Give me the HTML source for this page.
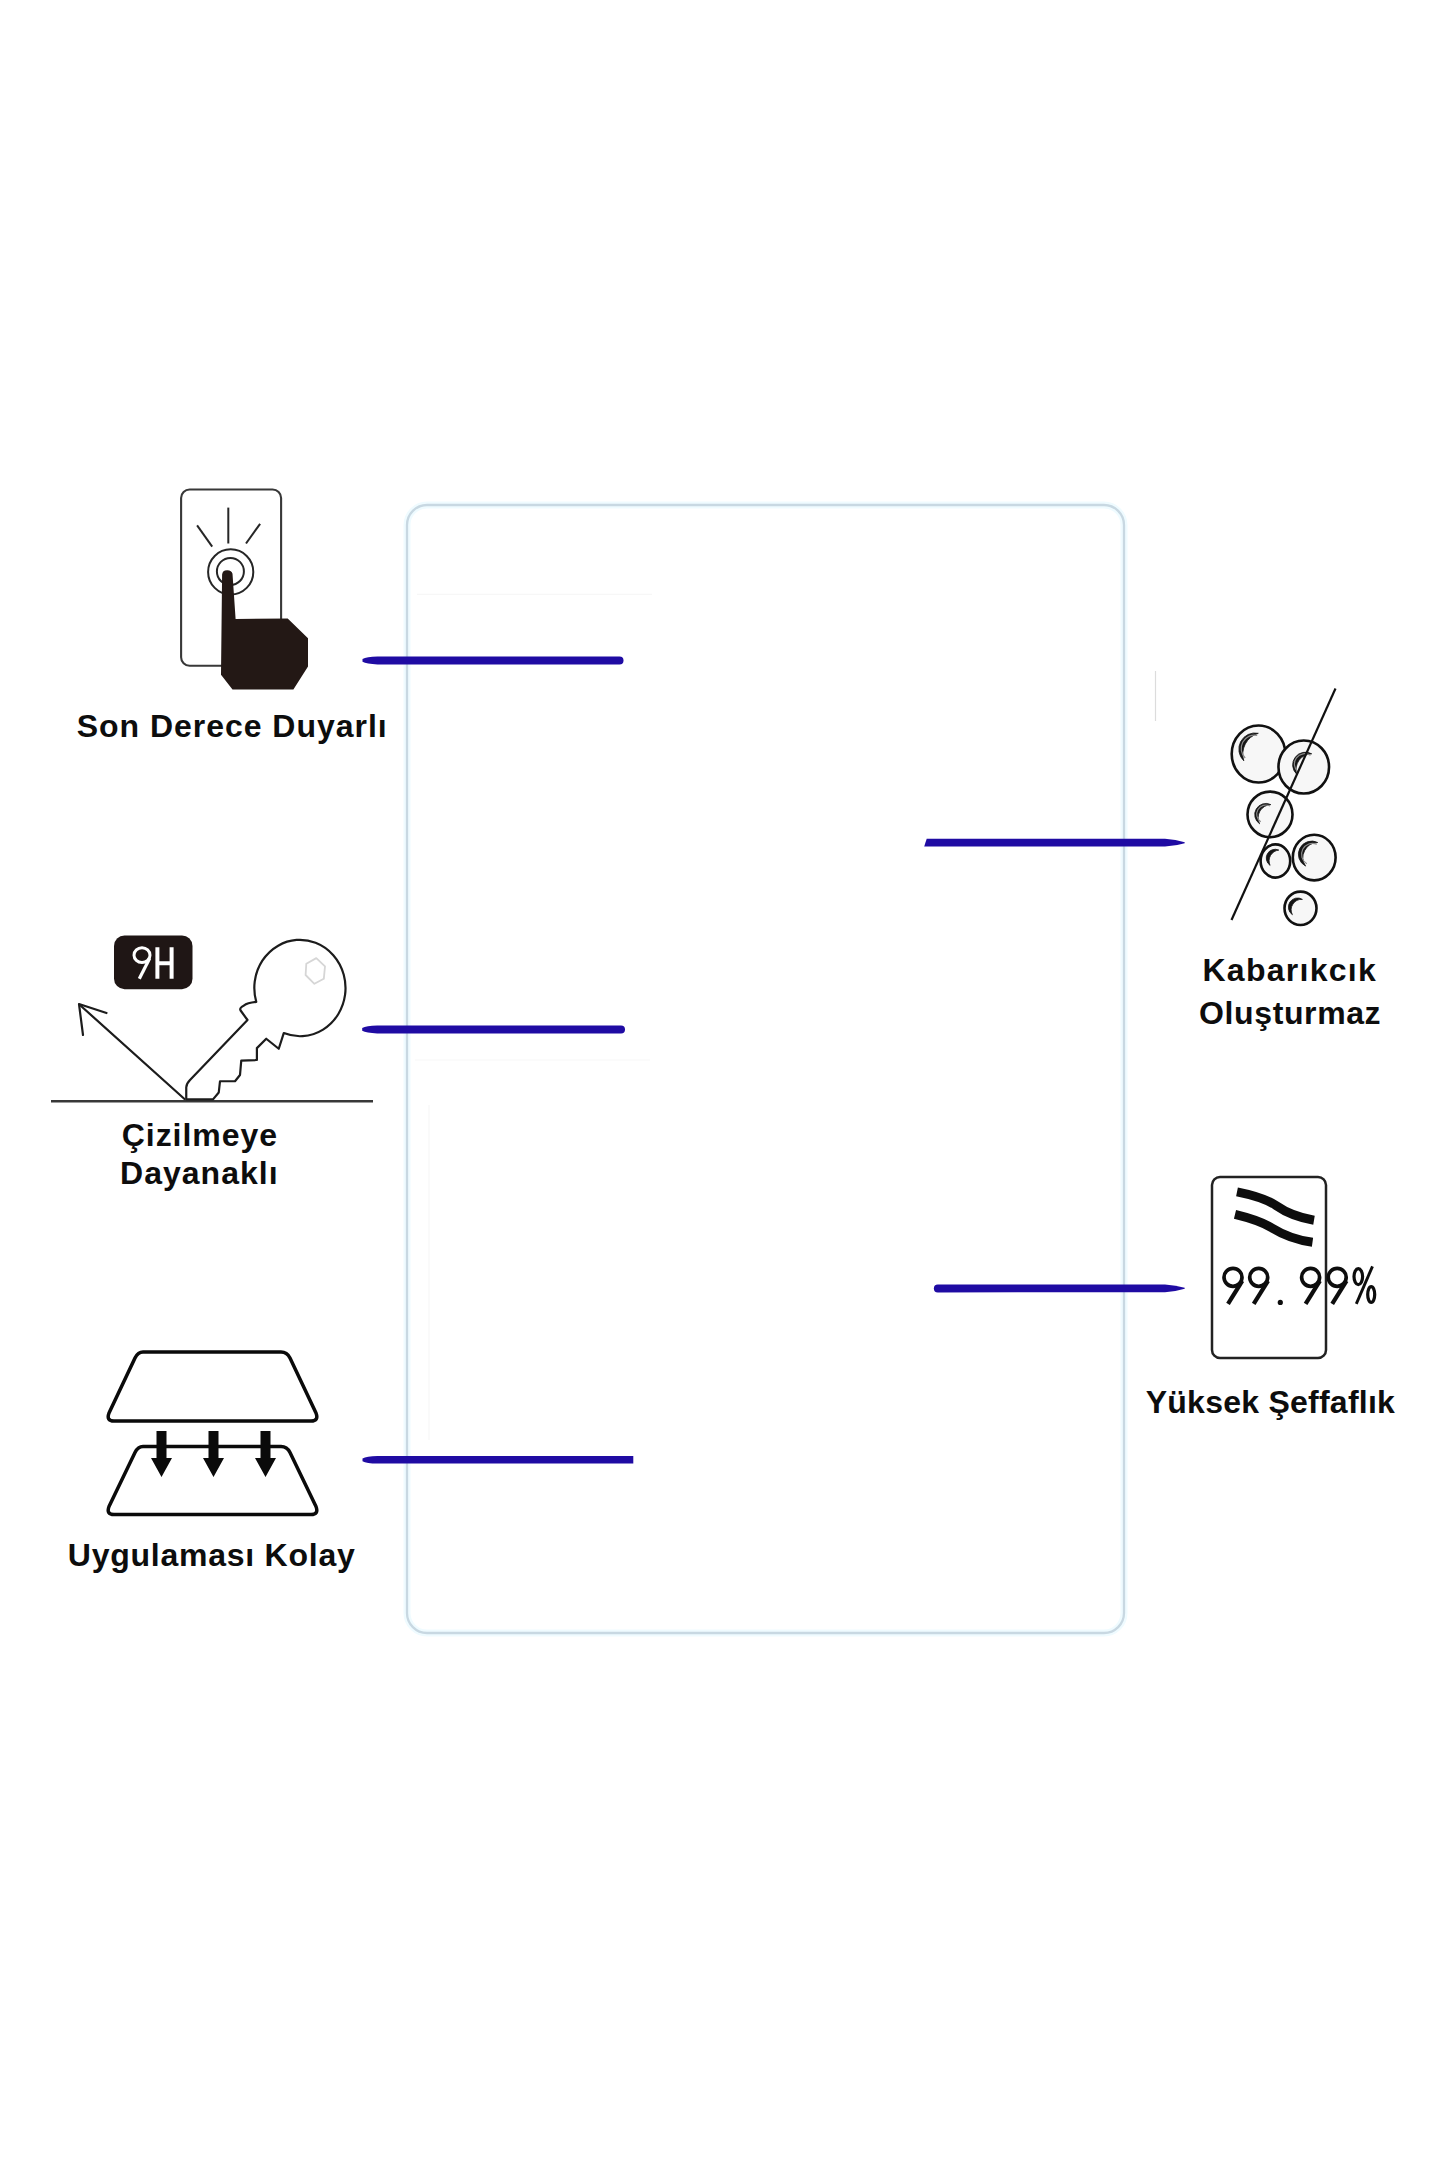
<!DOCTYPE html>
<html>
<head>
<meta charset="utf-8">
<style>
html,body{margin:0;padding:0;background:#fff;}
body{width:1440px;height:2160px;overflow:hidden;position:relative;font-family:"Liberation Sans",sans-serif;}
svg{position:absolute;left:0;top:0;}
.lbl{font-family:"Liberation Sans",sans-serif;font-weight:bold;fill:#0d0d0d;}
</style>
</head>
<body>
<svg width="1440" height="2160" viewBox="0 0 1440 2160">
<!-- central screen outline -->
<rect x="407" y="505" width="717" height="1128" rx="20" ry="20" fill="none" stroke="#effbff" stroke-width="7"/>
<rect x="407" y="505" width="717" height="1128" rx="20" ry="20" fill="none" stroke="#c8d8e2" stroke-width="2.3"/>

<g stroke="#f7f7f7" stroke-width="1.2">
<line x1="417" y1="594.4" x2="652" y2="594.4"/>
<line x1="415" y1="1060" x2="650" y2="1060"/>
<line x1="429" y1="1105" x2="429" y2="1440"/>
</g>
<!-- blue lines -->
<g fill="#1f0ba3">
<path d="M362.5 659.0 Q366.5 656.6 377.5 656.4 L619.5 656.4 A4.0 4.0 0 0 1 619.5 664.4 L377.5 664.4 Q366.5 664.2 362.5 661.8 Z"/>
<path d="M362.2 1028.0 Q366.2 1025.6 377.2 1025.4 L621.0 1025.4 A4.0 4.0 0 0 1 621.0 1033.4 L377.2 1033.4 Q366.2 1033.2 362.2 1030.8 Z"/>
<path d="M362.5 1458.4 Q366.5 1456.2 377.5 1456.0 L633.3 1456.0 L633.3 1463.6 L377.5 1463.6 Q366.5 1463.4 362.5 1461.2 Z"/>
<path d="M926.7 838.8 L1165 838.8 Q1176 839.5 1184.7 842.2 L1184.7 843.2 Q1176 845.9 1165 846.6 L924.2 846.6 Z"/>
<path d="M937.8 1284.5 L1165 1284.6 Q1176 1285.3 1184.7 1287.8 L1184.7 1288.8 Q1176 1291.5 1165 1292.3 L937.8 1292.4 A3.95 3.95 0 0 1 937.8 1284.5 Z"/>
</g>

<!-- ICON 1: touch -->
<rect x="181.1" y="489.5" width="100" height="176.3" rx="8.5" fill="none" stroke="#383838" stroke-width="2.1"/>
<g stroke="#262626" stroke-width="2.0" fill="none">
<line x1="228.3" y1="507.6" x2="228.3" y2="543.5"/>
<line x1="197.1" y1="525.3" x2="212.2" y2="546.7"/>
<line x1="260.1" y1="523.8" x2="246" y2="543.5"/>
<circle cx="230.7" cy="571.9" r="22.6"/>
<circle cx="230.4" cy="571.4" r="13.5"/>
</g>
<path fill="#231815" d="M222.1 574.5 Q222.5 570.4 227 570.3 Q231.5 570.1 232.5 573.8 L235.6 619 L287.7 618.6 L308 638.3 L308 666.5 L293.4 689.4 L232.5 689.4 L221 674.8 Z"/>
<text class="lbl" x="76.78" y="736.60" font-size="32.0" textLength="309.87" lengthAdjust="spacing">Son Derece Duyarlı</text>

<!-- ICON 2: scratch -->
<rect x="114" y="935.5" width="78.5" height="53.7" rx="10.5" fill="#1f1615"/>
<g stroke="#fff" fill="none">
<ellipse cx="142" cy="955.2" rx="8" ry="7.4" stroke-width="3"/>
<path d="M149.6 958.5 L139.3 978.8" stroke-width="3.2"/>
<path d="M157.4 947.2 V978.8 M171.6 947.2 V978.8 M157.4 963.3 H171.6" stroke-width="4"/>
</g>
<line x1="51" y1="1101.2" x2="373" y2="1101.2" stroke="#383838" stroke-width="2.4"/>
<g stroke="#1c1c1c" stroke-width="2.2" fill="none" stroke-linecap="round" stroke-linejoin="round">
<line x1="184.5" y1="1099" x2="81" y2="1006"/>
<polyline points="83,1035 79,1004 106.5,1013"/>
<path d="M256.25 1001.9 Q247 1003 244 1005.5 Q239 1008 240.6 1010.5 L247.5 1020 L190 1080 Q186 1084 186.25 1088 L186.25 1099.4 L213 1099.4 L218.75 1092.5 L220 1081.25 L235 1081.25 L240 1075 L241.25 1060.6 L256.9 1060 L256.9 1048.1 L266.25 1038.75 L278.75 1048.75 L283.75 1033.1 A45.6 48.2 0 1 0 256.25 1001.9 Z"/>
</g>
<polygon points="306.3,963.8 316.3,958.1 325,966.3 323.8,978.8 314.4,983.8 305.6,975" fill="none" stroke="#d6d6d6" stroke-width="1.8" stroke-linejoin="round"/>
<text class="lbl" x="121.79" y="1145.50" font-size="32.0" textLength="155.14" lengthAdjust="spacing">Çizilmeye</text>
<text class="lbl" x="120.06" y="1184.40" font-size="32.0" textLength="157.47" lengthAdjust="spacing">Dayanaklı</text>

<!-- ICON 3: apply -->
<g stroke="#0a0a0a" stroke-width="3.5" fill="none" stroke-linejoin="round">
<path d="M143 1352 L281 1352 Q287 1352 290 1358 L316 1413 Q319 1421 311 1421 L114 1421 Q106 1421 109 1413 L135 1358 Q138 1352 143 1352Z"/>
<path d="M143 1446.5 L281 1446.5 Q287 1446.5 290 1452.5 L316 1506.5 Q319 1514.5 311 1514.5 L114 1514.5 Q106 1514.5 109 1506.5 L135 1452.5 Q138 1446.5 143 1446.5Z"/>
</g>
<g fill="#0a0a0a">
<path d="M156.5 1431 L166.5 1431 L166.5 1458 L172 1458 L161.5 1477 L151 1458 L156.5 1458Z"/>
<path d="M208.5 1431 L218.5 1431 L218.5 1458 L224 1458 L213.5 1477 L203 1458 L208.5 1458Z"/>
<path d="M260.5 1431 L270.5 1431 L270.5 1458 L276 1458 L265.5 1477 L255 1458 L260.5 1458Z"/>
</g>
<text class="lbl" x="67.78" y="1566.30" font-size="32.0" textLength="287.00" lengthAdjust="spacing">Uygulaması Kolay</text>

<!-- ICON 4: bubbles -->
<line x1="1155.5" y1="671" x2="1155.5" y2="721" stroke="#dcdcdc" stroke-width="1.2"/>
<g stroke="#111" stroke-width="2.6" fill="#f7f7f7">
<ellipse cx="1258.5" cy="754" rx="26.8" ry="28.5"/>
<ellipse cx="1303.75" cy="767" rx="25.3" ry="26.5"/>
<ellipse cx="1270" cy="814.4" rx="22.5" ry="22.8"/>
<ellipse cx="1275.4" cy="861" rx="14.8" ry="16.6"/>
<ellipse cx="1314.2" cy="857.6" rx="21.4" ry="22.8"/>
<ellipse cx="1300.5" cy="908.3" rx="16" ry="16.7"/>
</g>
<g fill="#151515" stroke="#151515" stroke-width="0.8" stroke-linejoin="round">
<path d="M1258.3 733.3 A16.17 16.17 0 0 0 1243.8 760.8 A21.81 21.81 0 0 1 1258.3 733.3Z"/>
<path d="M1311.7 753.8 A12.75 12.75 0 0 0 1296.7 774.2 A15.81 15.81 0 0 1 1311.7 753.8Z"/>
<path d="M1270.8 804.6 A11.14 11.14 0 0 0 1259.6 823.8 A13.16 13.16 0 0 1 1270.8 804.6Z"/>
<path d="M1278.8 850.1 A8.83 8.83 0 0 0 1270.1 865.4 A10.80 10.80 0 0 1 1278.8 850.1Z"/>
<path d="M1317.7 842.5 A13.26 13.26 0 0 0 1305.6 866.1 A15.06 15.06 0 0 1 1317.7 842.5Z"/>
<path d="M1302.4 899.4 A9.14 9.14 0 0 0 1292.4 914.7 A10.46 10.46 0 0 1 1302.4 899.4Z"/>
</g>
<g fill="none" stroke="#8a8a8a" stroke-width="1.2">
<path d="M1257.2 735.4 A13.32 13.32 0 0 0 1245.2 758.0"/>
<path d="M1310.6 755.3 A10.50 10.50 0 0 0 1298.2 772.2"/>
<path d="M1270.0 806.0 A9.19 9.19 0 0 0 1260.7 821.8"/>
<path d="M1316.8 844.3 A10.94 10.94 0 0 0 1306.8 863.7"/>
</g>
<line x1="1335.5" y1="688.5" x2="1231.5" y2="920" stroke="#111" stroke-width="2.2"/>
<text class="lbl" x="1202.46" y="981.00" font-size="32.0" textLength="173.36" lengthAdjust="spacing">Kabarıkcık</text>
<text class="lbl" x="1199.09" y="1024.40" font-size="32.0" textLength="181.52" lengthAdjust="spacing">Oluşturmaz</text>

<!-- ICON 5: transparency -->
<rect x="1212" y="1177" width="114" height="181" rx="8" fill="none" stroke="#222" stroke-width="2.5"/>
<g stroke="#0d0d0d" stroke-width="9" fill="none" stroke-linecap="butt">
<path d="M1237 1191.8 C1258 1196 1268 1200 1276 1205.5 C1286 1212.5 1298 1217.5 1314 1220.2"/>
<path d="M1235 1214.4 C1254 1219 1264 1223 1272 1228 C1284 1235.5 1296 1240 1312.5 1242.3"/>
</g>
<g stroke="#0d0d0d" stroke-width="3.7" fill="none">
<circle cx="1233.0" cy="1277.3" r="9.0"/><path d="M1242.3 1280.8 L1228.0 1303.9" stroke-width="4.2"/><circle cx="1258.7" cy="1277.3" r="9.0"/><path d="M1268.0 1280.8 L1253.7 1303.9" stroke-width="4.2"/><circle cx="1310.6" cy="1277.3" r="9.0"/><path d="M1319.9 1280.8 L1305.6 1303.9" stroke-width="4.2"/><circle cx="1337.2" cy="1277.3" r="9.0"/><path d="M1346.5 1280.8 L1332.2 1303.9" stroke-width="4.2"/>
<ellipse cx="1358.3" cy="1276.6" rx="4.3" ry="8.0" stroke-width="3.2"/>
<ellipse cx="1371.2" cy="1294.5" rx="3.5" ry="7.9" stroke-width="3.2"/>
<path d="M1372.5 1266.3 L1356.3 1303.8" stroke-width="2.9"/>
</g>
<circle cx="1280.3" cy="1302.4" r="2.6" fill="#0d0d0d"/>
<text class="lbl" x="1145.70" y="1413.00" font-size="32.0" textLength="249.20" lengthAdjust="spacing">Yüksek Şeffaflık</text>
</svg>
</body>
</html>
